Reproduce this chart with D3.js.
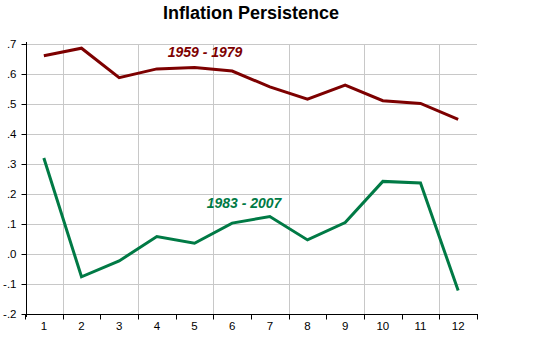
<!DOCTYPE html>
<html>
<head>
<meta charset="utf-8">
<script src="https://cdn.jsdelivr.net/npm/d3@7"></script>
<style>
  html, body { margin: 0; padding: 0; background: #fff; }
  svg { display: block; font-family: "Liberation Sans", Arial, sans-serif; }
</style>
</head>
<body>
<svg id="chart" width="555" height="337"></svg>
<script>
// Horizon (quarters) on the x axis
const horizons = [1, 2, 3, 4, 5, 6, 7, 8, 9, 10, 11, 12];

// Persistence estimates by sample period
const early = [0.661, 0.686, 0.588, 0.617, 0.622, 0.610, 0.557, 0.516, 0.563, 0.511, 0.502, 0.449];
const late  = [0.320, -0.076, -0.023, 0.058, 0.036, 0.103, 0.125, 0.047, 0.105, 0.242, 0.237, -0.122];

const seriesNames = ["1959 - 1979", "1983 - 2007"];
const yTicks = [0.7, 0.6, 0.5, 0.4, 0.3, 0.2, 0.1, 0.0, -0.1, -0.2];

const svg = d3.select("#chart");
const plotLeft = 26, plotRight = 477, plotTop = 44, plotBottom = 314;

const x = d3.scaleBand().domain(horizons).range([plotLeft - 1, plotRight]);
const y = d3.scaleLinear().domain([-0.2, 0.7]).range([plotBottom, plotTop]);

const fmt = v => {
  const s = Math.abs(v).toFixed(1).replace(/^0/, "");
  return (v < -1e-9 ? "-" : "") + s;
};

// horizontal gridlines
svg.append("g")
  .selectAll("line")
  .data(yTicks.filter(v => v > -0.2))
  .join("line")
  .attr("x1", plotLeft).attr("x2", plotRight)
  .attr("y1", d => Math.round(y(d)) + 0.5).attr("y2", d => Math.round(y(d)) + 0.5)
  .attr("stroke", "#c8c8c8").attr("stroke-width", 1);

// vertical gridlines on every other category boundary
svg.append("g")
  .selectAll("line")
  .data(horizons.filter((d, i) => i % 2 === 1))
  .join("line")
  .attr("x1", d => Math.round(x(d)) + 0.5).attr("x2", d => Math.round(x(d)) + 0.5)
  .attr("y1", plotTop).attr("y2", plotBottom)
  .attr("stroke", "#c8c8c8").attr("stroke-width", 1);

// y axis
const yAxis = svg.append("g")
  .attr("transform", `translate(${plotLeft + 0.5},0)`)
  .call(d3.axisLeft(y).tickValues(yTicks).tickFormat(fmt).tickSize(5).tickPadding(5));
yAxis.select(".domain").attr("d", `M0,${plotTop - 2}V${plotBottom + 3}`).attr("stroke", "#000");
yAxis.selectAll(".tick line").attr("stroke", "#000");
yAxis.selectAll(".tick text")
  .attr("font-size", 11.5).attr("fill", "#000")
  .attr("font-family", "Liberation Sans, Arial, sans-serif");

// x axis: labels centred in each band, ticks on band boundaries
const xAxis = svg.append("g")
  .attr("transform", `translate(0,${plotBottom + 0.5})`);
xAxis.append("line")
  .attr("x1", plotLeft - 1).attr("x2", plotRight + 1)
  .attr("stroke", "#000");
xAxis.selectAll("line.tk")
  .data(horizons.concat([null]))
  .join("line")
  .attr("class", "tk")
  .attr("x1", (d, i) => Math.round(x.range()[0] + i * x.bandwidth()) + 0.5)
  .attr("x2", (d, i) => Math.round(x.range()[0] + i * x.bandwidth()) + 0.5)
  .attr("y1", 0).attr("y2", 5)
  .attr("stroke", "#000");
xAxis.selectAll("text")
  .data(horizons)
  .join("text")
  .attr("x", d => x(d) + x.bandwidth() / 2)
  .attr("y", 15)
  .attr("text-anchor", "middle")
  .attr("font-size", 11.5)
  .attr("fill", "#000")
  .text(d => d);

// series lines
const line = d3.line()
  .x((d, i) => x(horizons[i]) + x.bandwidth() / 2)
  .y(d => y(d));

const colors = ["#7d0000", "#007a45"];
[early, late].forEach((vals, k) => {
  svg.append("path")
    .datum(vals)
    .attr("d", line)
    .attr("fill", "none")
    .attr("stroke", colors[k])
    .attr("stroke-width", 3)
    .attr("stroke-linejoin", "miter");
});

// series labels
svg.append("text")
  .attr("x", 205).attr("y", 57)
  .attr("text-anchor", "middle")
  .attr("font-size", 14).attr("font-weight", "bold").attr("font-style", "italic")
  .attr("fill", colors[0])
  .text(seriesNames[0]);
svg.append("text")
  .attr("x", 244).attr("y", 208)
  .attr("text-anchor", "middle")
  .attr("font-size", 14).attr("font-weight", "bold").attr("font-style", "italic")
  .attr("fill", colors[1])
  .text(seriesNames[1]);

// title
svg.append("text")
  .attr("x", 251).attr("y", 18.5)
  .attr("text-anchor", "middle")
  .attr("font-size", 18).attr("font-weight", "bold")
  .attr("fill", "#000")
  .text("Inflation Persistence");
</script>
</body>
</html>
